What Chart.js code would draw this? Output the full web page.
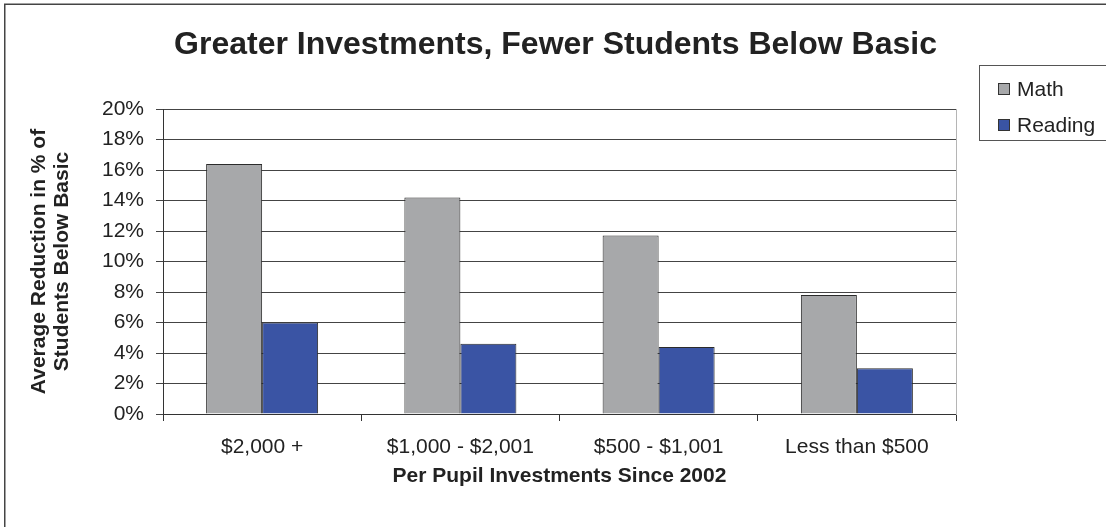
<!DOCTYPE html>
<html><head><meta charset="utf-8">
<script src="https://cdn.jsdelivr.net/npm/chart.js@4.4.0/dist/chart.umd.min.js"></script>
<style>html,body{margin:0;padding:0;background:#fff;} canvas{display:block;}</style>
</head><body>
<canvas id="c" width="1106" height="527"></canvas>
<script>
const categories = ["$2,000 +", "$1,000 - $2,001", "$500 - $1,001", "Less than $500"];
const seriesNames = ["Math", "Reading"];
const mathValues = [16.4, 14.2, 11.7, 7.8];
const readingValues = [6.0, 4.6, 4.4, 3.0];
const yMin = 0, yMax = 20, yStep = 2;

const FONT = "'Liberation Sans', Arial, sans-serif";
const TEXT = '#222';

const frameAndLegend = {
  id: 'frameAndLegend',
  beforeDraw(chart) {
    const ctx = chart.ctx;
    ctx.save();
    ctx.fillStyle = '#fff';
    ctx.fillRect(0, 0, chart.width, chart.height);
    ctx.strokeStyle = '#444';
    ctx.lineWidth = 1.5;
    ctx.strokeRect(4.75, 4.25, chart.width + 20, chart.height + 20);
    ctx.restore();
  },
  afterDraw(chart) {
    const ctx = chart.ctx;
    ctx.save();
    ctx.strokeStyle = '#555';
    ctx.lineWidth = 1;
    ctx.strokeRect(979.5, 65.5, 200, 75);
    ctx.font = '21px ' + FONT;
    ctx.textBaseline = 'middle';
    ctx.textAlign = 'left';
    const centers = [89, 125];
    chart.data.datasets.forEach((ds, i) => {
      const cy = centers[i];
      ctx.fillStyle = ds.backgroundColor;
      ctx.fillRect(998.5, cy - 5.5, 11, 11);
      ctx.strokeStyle = '#333';
      ctx.strokeRect(998.5, cy - 5.5, 11, 11);
      ctx.fillStyle = TEXT;
      ctx.fillText(ds.label, 1017, cy + 1);
    });
    ctx.restore();
  }
};

new Chart(document.getElementById('c'), {
  type: 'bar',
  data: {
    labels: categories,
    datasets: [
      { label: seriesNames[0], data: mathValues, backgroundColor: '#a7a8aa', borderColor: '#2b2b2b', borderWidth: 1, categoryPercentage: 0.565, barPercentage: 1 },
      { label: seriesNames[1], data: readingValues, backgroundColor: '#3a54a4', borderColor: '#2b2b2b', borderWidth: 1, categoryPercentage: 0.565, barPercentage: 1 }
    ]
  },
  options: {
    responsive: false,
    animation: false,
    devicePixelRatio: 1,
    layout: { padding: { left: 5, right: 0, top: 0, bottom: 0 } },
    plugins: {
      legend: { display: false },
      tooltip: { enabled: false },
      title: {
        display: true,
        text: 'Greater Investments, Fewer Students Below Basic',
        color: TEXT,
        font: { family: FONT, size: 32, weight: 'bold', lineHeight: 1.2 },
        padding: { top: 26, bottom: 44.6 }
      }
    },
    scales: {
      x: {
        grid: { offset: true, drawOnChartArea: false, drawTicks: true, tickLength: 7, color: '#333' },
        border: { color: '#333' },
        ticks: { padding: 14, color: TEXT, font: { family: FONT, size: 21 }, maxRotation: 0, autoSkip: false },
        title: { display: true, text: 'Per Pupil Investments Since 2002', color: TEXT,
                 font: { family: FONT, size: 21, weight: 'bold', lineHeight: 1.2 }, padding: { top: 0, bottom: 38 } },
        afterFit(s) { s.height = 113; }
      },
      y: {
        min: yMin, max: yMax,
        grid: { color: '#444', tickLength: 7 },
        border: { color: '#333' },
        ticks: { stepSize: yStep, padding: 12, color: TEXT, font: { family: FONT, size: 21 }, callback: v => v + '%' },
        title: { display: true, text: ['Average Reduction in % of', 'Students Below Basic'], color: TEXT,
                 font: { family: FONT, size: 21, weight: 'bold', lineHeight: 23 / 21 }, padding: { top: 23, bottom: 0 } },
        afterFit(s) { s.width = 158; }
      },
      y2: {
        type: 'linear', position: 'right', display: true,
        grid: { drawOnChartArea: false, drawTicks: false },
        border: { color: '#b5b5b5' },
        ticks: { display: false },
        afterFit(s) { s.width = 150; }
      }
    }
  },
  plugins: [frameAndLegend]
});
</script>
</body></html>
